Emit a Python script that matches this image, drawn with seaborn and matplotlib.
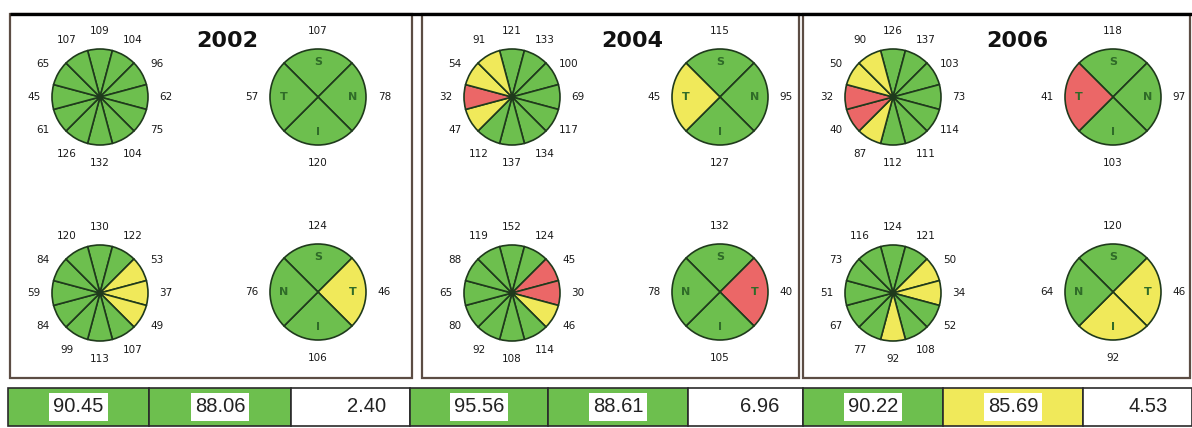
import numpy as np
import matplotlib
matplotlib.use("Agg")
import matplotlib.pyplot as plt
from matplotlib.patches import Rectangle
import seaborn as sns

# ---------------------------------------------------------------- data
years = ["2002", "2004", "2006"]

# Clock-hour thickness, listed 12, 1, 2, ..., 11 o'clock
clock_upper = [
    [109, 104, 96, 62, 75, 104, 132, 126, 61, 45, 65, 107],
    [121, 133, 100, 69, 117, 134, 137, 112, 47, 32, 54, 91],
    [126, 137, 103, 73, 114, 111, 112, 87, 40, 32, 50, 90],
]
clock_upper_class = ["GGGGGGGGGGGG", "GGGGGGGGYRYY", "GGGGGGGYRRYY"]

clock_lower = [
    [130, 122, 53, 37, 49, 107, 113, 99, 84, 59, 84, 120],
    [152, 124, 45, 30, 46, 114, 108, 92, 80, 65, 88, 119],
    [124, 121, 50, 34, 52, 108, 92, 77, 67, 51, 73, 116],
]
clock_lower_class = ["GGYYYGGGGGGG", "GGRRYGGGGGGG", "GGYYGGYGGGGG"]

# Quadrants, listed top, right, bottom, left
quad_upper_letters = ["S", "N", "I", "T"]
quad_upper = [[107, 78, 120, 57], [115, 95, 127, 45], [118, 97, 103, 41]]
quad_upper_class = ["GGGG", "GGGY", "GGGR"]

quad_lower_letters = ["S", "T", "I", "N"]
quad_lower = [[124, 46, 106, 76], [132, 40, 105, 78], [120, 46, 92, 64]]
quad_lower_class = ["GYGG", "GRGG", "GYYG"]

summary_values = [[90.45, 88.06, 2.40], [95.56, 88.61, 6.96], [90.22, 85.69, 4.53]]
summary_class = ["GGW", "GGW", "GYW"]

# ---------------------------------------------------------------- style
sns.set_theme(style="white")
plt.rcParams["font.family"] = ["DejaVu Sans"]

pal = sns.color_palette(["#6dbf4e", "#f0e95a", "#eb6767", "#ffffff"])
palette = {"G": pal[0], "Y": pal[1], "R": pal[2], "W": pal[3]}
EDGE = "#1f3a1c"
LETTER = "#2f6b28"
FRAME = "#5c4d44"

W, H = 1192, 428
fig = plt.figure(figsize=(W / 100, H / 100), dpi=100)
fig.patch.set_facecolor("white")

bg = fig.add_axes([0, 0, 1, 1])
bg.set_xlim(0, W)
bg.set_ylim(H, 0)
bg.axis("off")

# panel frames
panels = [(10, 412), (422, 799), (803, 1190)]
for x0, x1 in panels:
    bg.add_patch(Rectangle((x0, 14), x1 - x0, 364, fill=False,
                           edgecolor=FRAME, linewidth=1.6))
bg.plot([10, W], [14, 14], color="black", linewidth=2.4, solid_capstyle="butt")

title_x = [227, 632, 1017]
for yr, tx in zip(years, title_x):
    bg.text(tx, 41, yr, ha="center", va="center", fontsize=16,
            fontweight="bold", color="#111111")

R_PX = 48.0      # pie radius in pixels
HALF = 82.0      # half-size of each pie's axes in pixels


def pie_axes(cx, cy):
    ax = fig.add_axes([(cx - HALF) / W, 1 - (cy + HALF) / H,
                       2 * HALF / W, 2 * HALF / H])
    ax.set_facecolor("none")
    return ax


def finish(ax):
    lim = HALF / R_PX
    ax.set_xlim(-lim, lim)
    ax.set_ylim(-lim, lim)
    ax.axis("off")


def draw_clock(cx, cy, values, classes):
    ax = pie_axes(cx, cy)
    ax.pie(np.ones(len(values)), colors=[palette[c] for c in classes],
           startangle=105, counterclock=False, radius=1,
           wedgeprops=dict(edgecolor=EDGE, linewidth=1.2))
    for h, v in enumerate(values):
        th = np.deg2rad(90 - 30 * h)
        ax.text(1.37 * np.cos(th), 1.37 * np.sin(th), str(v),
                ha="center", va="center", fontsize=7.5, color="#1a1a1a")
    finish(ax)


def draw_quad(cx, cy, values, letters, classes):
    ax = pie_axes(cx, cy)
    ax.pie(np.ones(len(values)), colors=[palette[c] for c in classes],
           startangle=135, counterclock=False, radius=1,
           wedgeprops=dict(edgecolor=EDGE, linewidth=1.2))
    for q, (v, lab) in enumerate(zip(values, letters)):
        th = np.deg2rad(90 - 90 * q)
        ax.text(1.38 * np.cos(th), 1.38 * np.sin(th), str(v),
                ha="center", va="center", fontsize=7.5, color="#1a1a1a")
        ax.text(0.72 * np.cos(th), 0.72 * np.sin(th), lab,
                ha="center", va="center", fontsize=8, fontweight="bold",
                color=LETTER)
    finish(ax)


clock_x = [100, 512, 893]
quad_x = [318, 720, 1113]
for i in range(3):
    draw_clock(clock_x[i], 97, clock_upper[i], clock_upper_class[i])
    draw_quad(quad_x[i], 97, quad_upper[i], quad_upper_letters, quad_upper_class[i])
    draw_clock(clock_x[i], 293, clock_lower[i], clock_lower_class[i])
    draw_quad(quad_x[i], 292, quad_lower[i], quad_lower_letters, quad_lower_class[i])

# summary row
edges = [8, 149, 291, 410, 548, 688, 803, 943, 1083, 1192]
cell_font = ["Liberation Sans", "DejaVu Sans"]
k = 0
for vals, cls in zip(summary_values, summary_class):
    for v, c in zip(vals, cls):
        x0, x1 = edges[k], edges[k + 1]
        bg.add_patch(Rectangle((x0, 388), x1 - x0, 38, facecolor=palette[c],
                               edgecolor="#2a2a2a", linewidth=1.2))
        if c == "W":
            bg.text(x1 - 24, 407, f"{v:.2f}", ha="right", va="center",
                    fontsize=14.5, family=cell_font, color="#222222")
        else:
            bg.text((x0 + x1) / 2, 407, f"{v:.2f}", ha="center", va="center",
                    fontsize=14.5, family=cell_font, color="#222222",
                    bbox=dict(boxstyle="square,pad=0.2", facecolor="white",
                              edgecolor="none"))
        k += 1

fig.savefig("out.png", dpi=100, facecolor="white")
